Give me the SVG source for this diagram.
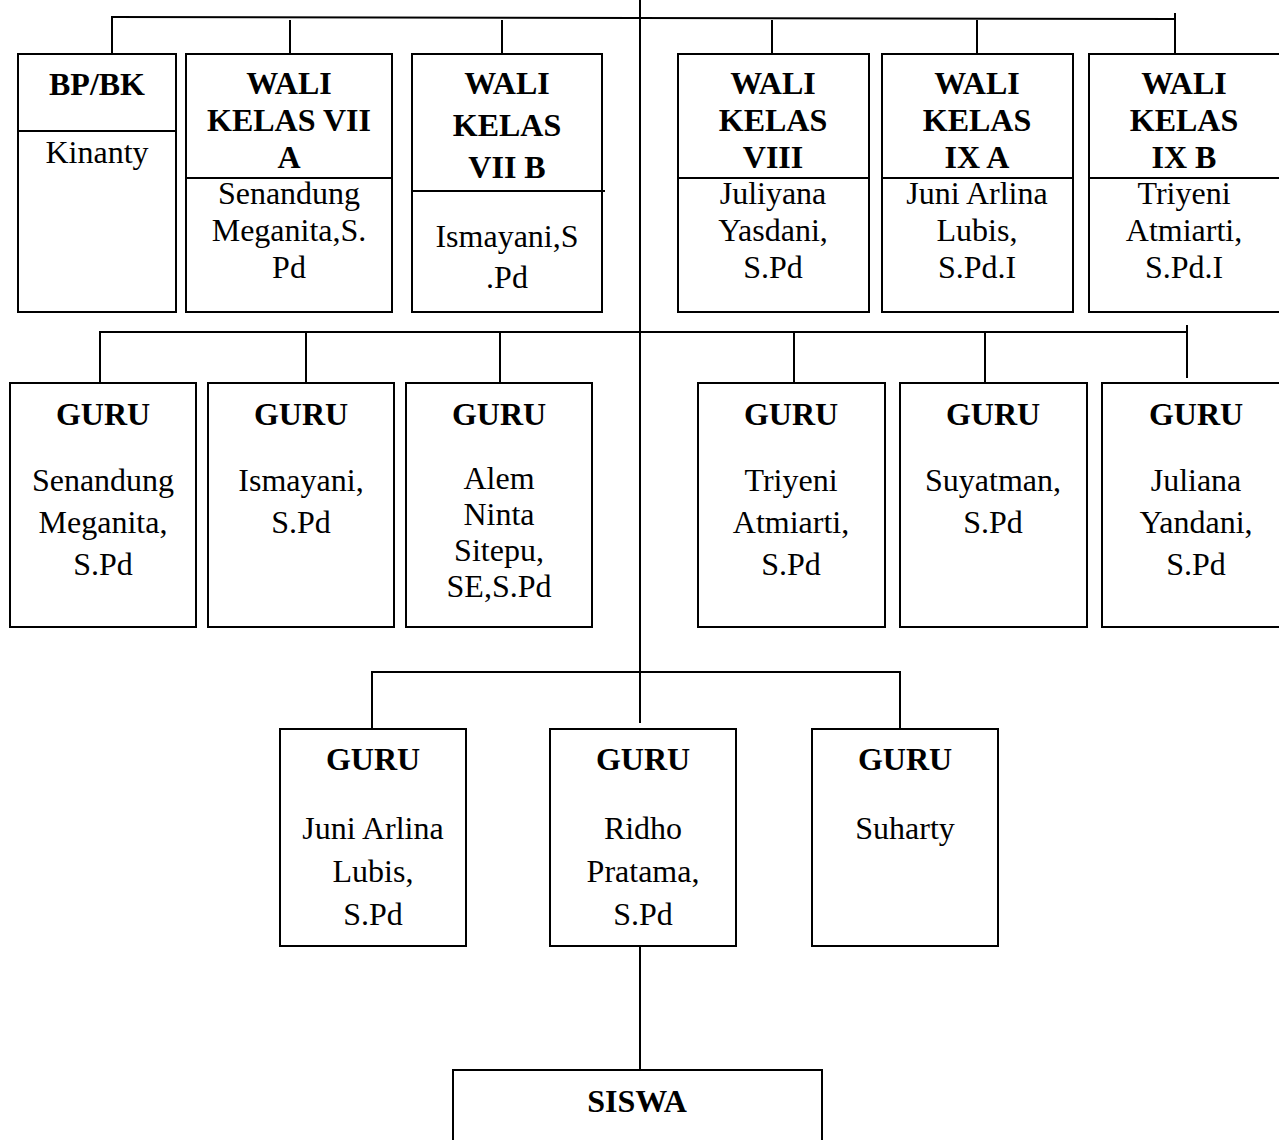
<svg xmlns="http://www.w3.org/2000/svg" width="1279" height="1140" viewBox="0 0 1279 1140">
<style>
.box{fill:#fff;stroke:#000;stroke-width:2}
.div{stroke:#000;stroke-width:2}
.c{stroke:#000;stroke-width:2;fill:none}
text{font-family:'Liberation Serif','Times New Roman',Times,Tinos,'Nimbus Roman',serif;font-size:32px;fill:#000;text-anchor:middle}
.b{font-weight:bold}
</style>
<rect width="1279" height="1140" fill="#fff"/>
<g id="connectors">
<line class="c" x1="111" y1="17" x2="1175" y2="19"/>
<line class="c" x1="112" y1="17" x2="112" y2="54"/>
<line class="c" x1="290" y1="20" x2="290" y2="58"/>
<line class="c" x1="502" y1="20" x2="502" y2="58"/>
<line class="c" x1="772" y1="20" x2="772" y2="58"/>
<line class="c" x1="977" y1="20" x2="977" y2="58"/>
<line class="c" x1="1175" y1="13" x2="1175" y2="54"/>
<line class="c" x1="640" y1="0" x2="640" y2="723"/>
<line class="c" x1="99" y1="332" x2="1187" y2="332"/>
<line class="c" x1="100" y1="332" x2="100" y2="383"/>
<line class="c" x1="306" y1="332" x2="306" y2="383"/>
<line class="c" x1="500" y1="332" x2="500" y2="383"/>
<line class="c" x1="794" y1="332" x2="794" y2="383"/>
<line class="c" x1="985" y1="332" x2="985" y2="383"/>
<line class="c" x1="1187" y1="325" x2="1187" y2="378"/>
<line class="c" x1="371" y1="672" x2="901" y2="672"/>
<line class="c" x1="372" y1="672" x2="372" y2="729"/>
<line class="c" x1="900" y1="672" x2="900" y2="729"/>
<line class="c" x1="640" y1="946" x2="640" y2="1070"/>
</g>
<g id="bpbk" font-family="Liberation Serif">
<rect class="box" x="18" y="54" width="158" height="258"/>
<line class="div" x1="18" y1="131" x2="176" y2="131"/>
<text class="b" x="97" y="95">BP/BK</text>
<text x="97" y="163">Kinanty</text>
</g>
<g id="wali7a">
<rect class="box" x="186" y="54" width="206" height="258"/>
<line class="div" x1="186" y1="178" x2="392" y2="178"/>
<text class="b" x="289" y="94">WALI</text>
<text class="b" x="289" y="131">KELAS VII</text>
<text class="b" x="289" y="168">A</text>
<text x="289" y="204">Senandung</text>
<text x="289" y="241">Meganita,S.</text>
<text x="289" y="278">Pd</text>
</g>
<g id="wali7b">
<rect class="box" x="412" y="54" width="190" height="258"/>
<line class="div" x1="412" y1="191" x2="605" y2="191"/>
<text class="b" x="507" y="94">WALI</text>
<text class="b" x="507" y="136">KELAS</text>
<text class="b" x="507" y="178">VII B</text>
<text x="507" y="247">Ismayani,S</text>
<text x="507" y="288">.Pd</text>
</g>
<g id="wali8">
<rect class="box" x="678" y="54" width="191" height="258"/>
<line class="div" x1="678" y1="178" x2="869" y2="178"/>
<text class="b" x="773" y="94">WALI</text>
<text class="b" x="773" y="131">KELAS</text>
<text class="b" x="773" y="168">VIII</text>
<text x="773" y="204">Juliyana</text>
<text x="773" y="241">Yasdani,</text>
<text x="773" y="278">S.Pd</text>
</g>
<g id="wali9a">
<rect class="box" x="882" y="54" width="191" height="258"/>
<line class="div" x1="882" y1="178" x2="1073" y2="178"/>
<text class="b" x="977" y="94">WALI</text>
<text class="b" x="977" y="131">KELAS</text>
<text class="b" x="977" y="168">IX A</text>
<text x="977" y="204">Juni Arlina</text>
<text x="977" y="241">Lubis,</text>
<text x="977" y="278">S.Pd.I</text>
</g>
<g id="wali9b">
<rect class="box" x="1089" y="54" width="194" height="258"/>
<line class="div" x1="1089" y1="178" x2="1283" y2="178"/>
<text class="b" x="1184" y="94">WALI</text>
<text class="b" x="1184" y="131">KELAS</text>
<text class="b" x="1184" y="168">IX B</text>
<text x="1184" y="204">Triyeni</text>
<text x="1184" y="241">Atmiarti,</text>
<text x="1184" y="278">S.Pd.I</text>
</g>
<g id="guru1">
<rect class="box" x="10" y="383" width="186" height="244"/>
<text class="b" x="103" y="425">GURU</text>
<text x="103" y="491">Senandung</text>
<text x="103" y="533">Meganita,</text>
<text x="103" y="575">S.Pd</text>
</g>
<g id="guru2">
<rect class="box" x="208" y="383" width="186" height="244"/>
<text class="b" x="301" y="425">GURU</text>
<text x="301" y="491">Ismayani,</text>
<text x="301" y="533">S.Pd</text>
</g>
<g id="guru3">
<rect class="box" x="406" y="383" width="186" height="244"/>
<text class="b" x="499" y="425">GURU</text>
<text x="499" y="489">Alem</text>
<text x="499" y="525">Ninta</text>
<text x="499" y="561">Sitepu,</text>
<text x="499" y="597">SE,S.Pd</text>
</g>
<g id="guru4">
<rect class="box" x="698" y="383" width="187" height="244"/>
<text class="b" x="791" y="425">GURU</text>
<text x="791" y="491">Triyeni</text>
<text x="791" y="533">Atmiarti,</text>
<text x="791" y="575">S.Pd</text>
</g>
<g id="guru5">
<rect class="box" x="900" y="383" width="187" height="244"/>
<text class="b" x="993" y="425">GURU</text>
<text x="993" y="491">Suyatman,</text>
<text x="993" y="533">S.Pd</text>
</g>
<g id="guru6">
<rect class="box" x="1102" y="383" width="190" height="244"/>
<text class="b" x="1196" y="425">GURU</text>
<text x="1196" y="491">Juliana</text>
<text x="1196" y="533">Yandani,</text>
<text x="1196" y="575">S.Pd</text>
</g>
<g id="guru7">
<rect class="box" x="280" y="729" width="186" height="217"/>
<text class="b" x="373" y="770">GURU</text>
<text x="373" y="839">Juni Arlina</text>
<text x="373" y="882">Lubis,</text>
<text x="373" y="925">S.Pd</text>
</g>
<g id="guru8">
<rect class="box" x="550" y="729" width="186" height="217"/>
<text class="b" x="643" y="770">GURU</text>
<text x="643" y="839">Ridho</text>
<text x="643" y="882">Pratama,</text>
<text x="643" y="925">S.Pd</text>
</g>
<g id="guru9">
<rect class="box" x="812" y="729" width="186" height="217"/>
<text class="b" x="905" y="770">GURU</text>
<text x="905" y="839">Suharty</text>
</g>
<g id="siswa">
<rect class="box" x="453" y="1070" width="369" height="90"/>
<text class="b" x="637" y="1112">SISWA</text>
</g>
</svg>
